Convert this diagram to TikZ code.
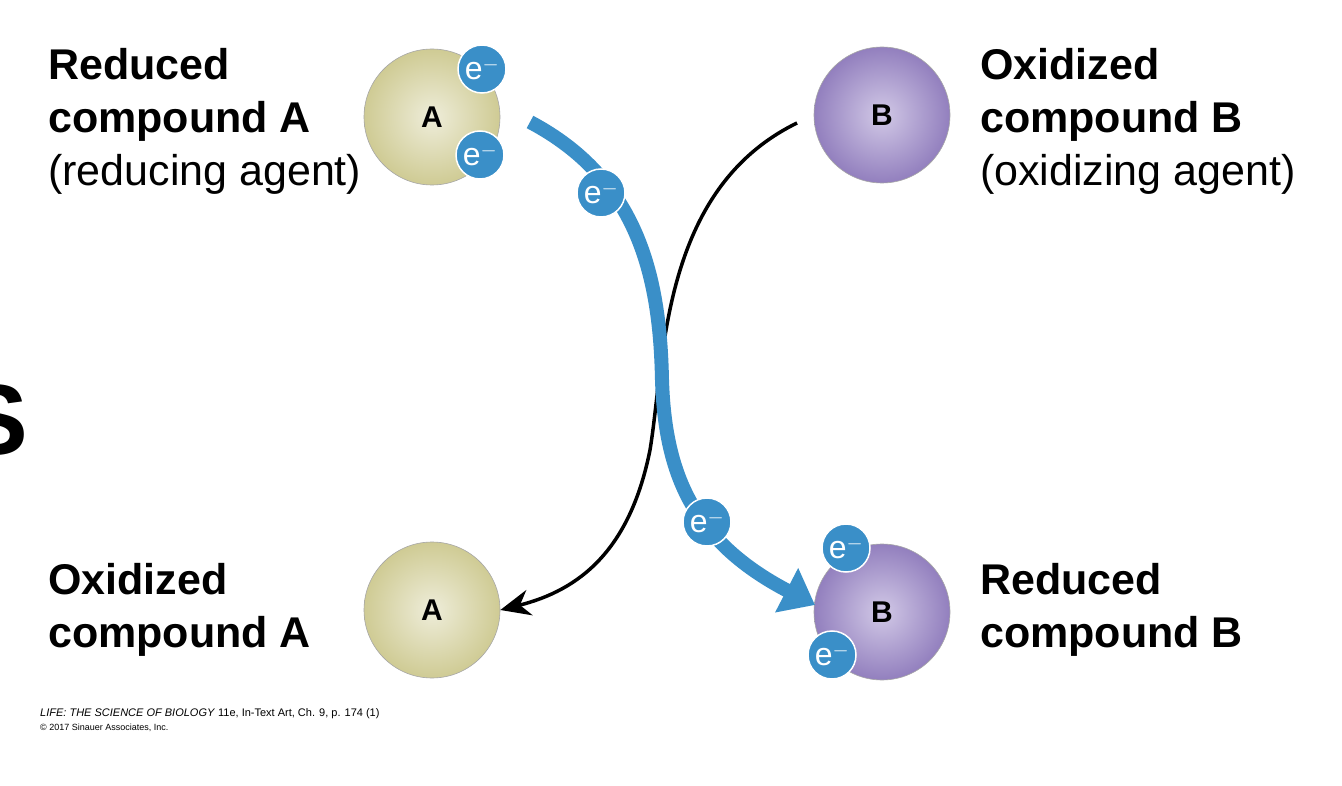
\documentclass[tikz,border=0pt]{standalone}
\usepackage{fontspec}
\setmainfont{Liberation Sans}
\usetikzlibrary{arrows.meta}
\definecolor{eblue}{HTML}{3A8FC8}
\definecolor{acol}{HTML}{CFCB94}
\definecolor{bcol}{HTML}{9A86C8}
\begin{document}
\begin{tikzpicture}[x=1pt,y=-1pt,
  sphere/.style={circle,minimum size=136pt,inner sep=0pt,draw=black!35,line width=0.6pt,font=\fontsize{30}{30}\selectfont\bfseries},
  asph/.style={sphere,inner color=acol!35,outer color=acol},
  bsph/.style={sphere,inner color=bcol!45,outer color=bcol!95!black},
  elec/.style={circle,fill=eblue,draw=white,line width=1.5pt,minimum size=48pt,inner sep=0pt,text=white,font=\fontsize{32}{32}\selectfont},
  lbl/.style={anchor=north west,align=left,font=\fontsize{43}{53}\selectfont,inner sep=0pt}]
\useasboundingbox (0,0) rectangle (1342,786);
\fill[white] (0,0) rectangle (1342,786);
% spheres
\node[asph] (At) at (432,117) {A};
\node[bsph] (Bt) at (882,115) {B};
\node[asph] (Ab) at (432,610) {A};
\node[bsph] (Bb) at (882,612) {B};
% black arrow
\coordinate (bs) at (797,123);
\draw[line width=3.5pt,-{Stealth[length=30pt,width=26pt]}] (bs) .. controls (660,190) and (665,360) .. (650,450) .. controls (630,550) and (580,590) .. (Ab.east);
% blue arrow
\coordinate (es) at (530,122);
\coordinate (ee) at (815,605);
\draw[eblue,line width=14pt,-{Triangle[length=32pt,width=48pt]}] (es) .. controls (640,180) and (660,280) .. (662,380) .. controls (665,470) and (690,540) .. (ee);
% electrons
\node[elec] (e1) at (482,69) {e$^{-}$};
\node[elec] (e2) at (480,155) {e$^{-}$};
\node[elec] (e3) at (601,193) {e$^{-}$};
\node[elec] (e4) at (707,522) {e$^{-}$};
\node[elec] (e5) at (846,548) {e$^{-}$};
\node[elec] (e6) at (832,655) {e$^{-}$};
% labels
\node[lbl] (la) at (48,48) {\textbf{Reduced}\\\textbf{compound A}\\(reducing agent)};
\node[lbl] (lb) at (980,48) {\textbf{Oxidized}\\\textbf{compound B}\\(oxidizing agent)};
\node[lbl] (lc) at (48,563) {\textbf{Oxidized}\\\textbf{compound A}};
\node[lbl] (ld) at (980,563) {\textbf{Reduced}\\\textbf{compound B}};
\node[anchor=east,inner sep=0pt,font=\fontsize{100}{100}\selectfont\bfseries] (s) at (28,420) {S};
\node[anchor=north west,align=left,inner sep=0pt,font=\fontsize{11}{14}\selectfont] (cp) at (40,708) {\textit{LIFE: THE SCIENCE OF BIOLOGY} 11e, In-Text Art, Ch. 9, p. 174 (1)\\\fontsize{9}{12}\selectfont\textcopyright\ 2017 Sinauer Associates, Inc.};
\end{tikzpicture}
\end{document}
